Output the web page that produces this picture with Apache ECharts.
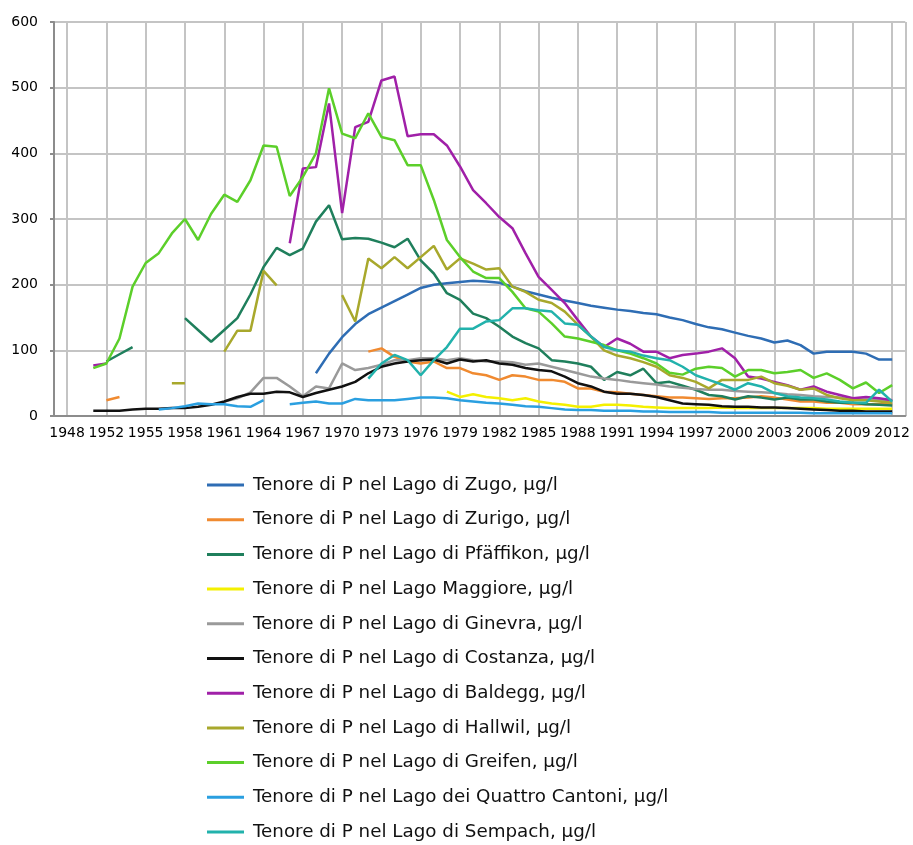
<!DOCTYPE html>
<html>
<head>
<meta charset="utf-8">
<script src="https://cdn.jsdelivr.net/npm/echarts@6/dist/echarts.min.js"></script>
<style>
html,body{margin:0;padding:0;background:#fff;}
#chart{width:913px;height:845px;}
</style>
</head>
<body>
<div id="chart"></div>
<script>
const years = [1948,1950,1951,1952,1953,1954,1955,1956,
  1957,1958,1959,1960,1961,1962,1963,1964,
  1965,1966,1967,1968,1969,1970,1971,1972,
  1973,1974,1975,1976,1977,1978,1979,1980,
  1981,1982,1983,1984,1985,1986,1987,1988,
  1989,1990,1991,1992,1993,1994,1995,1996,
  1997,1998,1999,2000,2001,2002,2003,2004,
  2005,2006,2007,2008,2009,2010,2011,2012];

const yTicks = [0,100,200,300,400,500,600];

const seriesNames = [
  'Tenore di P nel Lago di Zugo, µg/l',
  'Tenore di P nel Lago di Zurigo, µg/l',
  'Tenore di P nel Lago di Pfäffikon, µg/l',
  'Tenore di P nel Lago Maggiore, µg/l',
  'Tenore di P nel Lago di Ginevra, µg/l',
  'Tenore di P nel Lago di Costanza, µg/l',
  'Tenore di P nel Lago di Baldegg, µg/l',
  'Tenore di P nel Lago di Hallwil, µg/l',
  'Tenore di P nel Lago di Greifen, µg/l',
  'Tenore di P nel Lago dei Quattro Cantoni, µg/l',
  'Tenore di P nel Lago di Sempach, µg/l'
];

const zugo = [null,null,null,null,null,null,null,null,
  null,null,null,null,null,null,null,null,
  null,null,null,65,95,120,140,155,
  165,175,185,195,200,202,204,206,
  205,203,197,190,185,180,176,172,
  168,165,162,160,157,155,150,146,
  140,135,132,127,122,118,112,115,
  108,95,98,98,98,95,86,86];

const zurigo = [null,null,null,24,29,null,null,null,
  null,null,null,null,null,null,null,null,
  null,null,null,null,null,null,null,98,
  103,90,83,80,83,73,73,65,
  62,55,62,60,55,55,52,42,
  42,37,36,34,32,30,28,28,
  27,26,27,27,28,30,28,25,
  22,22,20,20,18,18,18,18];

const pfaffikon = [null,null,null,83,94,105,null,null,
  null,149,131,113,131,149,185,227,
  256,245,255,296,321,269,271,270,
  264,257,270,237,217,187,177,156,
  149,136,121,111,103,85,83,80,
  75,55,67,62,72,50,52,46,
  40,32,30,25,30,28,25,28,
  25,25,22,20,20,18,17,16];

const maggiore = [null,null,null,null,null,null,null,null,
  null,null,null,null,null,null,null,null,
  null,null,null,null,null,null,null,null,
  null,null,null,null,null,37,29,33,
  29,27,24,27,22,19,17,14,
  14,17,17,16,14,13,12,12,
  12,12,13,12,12,12,12,12,
  12,12,11,11,11,11,11,11];

const ginevra = [null,null,null,null,null,null,null,null,
  null,null,null,null,22,27,36,58,
  58,45,30,45,42,80,70,73,
  78,85,85,88,88,85,88,85,
  83,83,82,78,80,75,70,65,
  60,57,55,52,50,48,45,43,
  41,40,40,38,37,36,35,33,
  32,30,29,28,26,25,24,23];

const costanza = [null,null,8,8,8,10,11,11,
  12,12,14,17,22,29,34,34,
  37,36,29,35,40,45,52,65,
  75,80,83,85,86,80,86,83,
  85,80,78,73,70,68,60,50,
  45,37,34,34,32,29,24,19,
  18,17,15,14,14,13,13,12,
  11,10,9,8,8,7,7,7];

const baldegg = [null,null,77,80,null,null,null,null,
  null,null,null,null,null,null,null,null,
  null,263,377,379,476,309,440,448,
  511,517,426,429,429,412,380,344,
  324,303,286,248,212,192,172,146,
  121,105,118,110,98,98,88,93,
  95,98,103,88,60,57,52,47,
  40,45,37,32,27,29,27,24];

const hallwil = [null,null,null,null,null,null,null,null,
  50,50,null,null,98,130,130,221,
  199,null,null,null,null,184,144,240,
  225,242,225,242,259,223,240,232,
  223,225,197,189,177,172,159,139,
  121,100,92,88,82,75,62,58,
  52,42,55,55,55,60,50,46,
  40,42,32,27,24,24,22,20];

const greifen = [null,null,73,80,118,197,233,248,
  278,300,268,308,337,326,359,412,
  410,335,364,400,499,430,423,461,
  425,420,382,382,329,268,242,220,
  210,210,189,164,159,141,121,118,
  113,108,100,95,88,80,66,63,
  72,75,73,60,70,70,65,67,
  70,58,65,55,42,51,35,47];

const quattroCantoni = [null,null,null,null,null,null,null,10,
  12,15,19,18,18,15,14,24,
  null,18,20,22,19,19,26,24,
  24,24,26,28,28,27,24,22,
  20,19,17,15,14,12,10,9,
  9,8,8,8,7,7,6,6,
  6,6,5,5,5,5,5,5,
  5,4,4,4,4,4,4,4];

const sempach = [null,null,null,null,null,null,null,null,
  null,null,null,null,null,null,null,null,
  null,null,null,null,null,null,null,57,
  80,93,85,62,85,105,133,133,
  144,146,164,164,161,159,141,139,
  121,105,100,98,92,88,85,75,
  62,55,48,40,50,45,35,30,
  28,27,25,22,20,20,40,22];

const seriesValues = [zugo, zurigo, pfaffikon, maggiore, ginevra, costanza,
  baldegg, hallwil, greifen, quattroCantoni, sempach];

const seriesColors = ['#2e6db4','#f08a30','#1f7f5c','#f4f000','#9a9a9a','#111111',
  '#a020a8','#a8a82c','#5ccf2a','#2a9fe0','#22b2ac'];

// category axis padded with one empty slot at each end
const cats = [''].concat(years.map(String), ['']);
const lastIdx = cats.length - 1;
const showTick = function (idx) {
  if (idx === 0 || idx === lastIdx) return false;
  return (idx - 1) % 3 === 0;
};
const showSplit = function (idx) {
  if (idx === 0 || idx === lastIdx) return true;
  return (idx - 1) % 3 === 0;
};

const font = 'DejaVu Sans';
const chart = echarts.init(document.getElementById('chart'), null, {renderer: 'canvas'});
chart.setOption({
  animation: false,
  backgroundColor: '#ffffff',
  grid: {left: 54, right: 4, top: 22, bottom: 429, containLabel: false},
  legend: {
    orient: 'vertical',
    left: 207,
    top: 475,
    height: 372,
    padding: 0,
    icon: 'rect',
    itemWidth: 37,
    itemHeight: 3,
    itemGap: 14.7,
    data: seriesNames,
    textStyle: {fontFamily: font, fontSize: 18.3, color: '#111', lineHeight: 20, padding: [0,0,0,4]}
  },
  xAxis: {
    type: 'category',
    boundaryGap: false,
    data: cats,
    axisLine: {show: true, lineStyle: {color: '#8c8c8c', width: 2}},
    axisTick: {show: false},
    axisLabel: {interval: showTick, fontFamily: font, fontSize: 14, color: '#000', margin: 10},
    splitLine: {show: true, interval: showSplit, lineStyle: {color: '#c4c4c4', width: 2}}
  },
  yAxis: {
    type: 'value',
    min: yTicks[0],
    max: yTicks[yTicks.length - 1],
    interval: yTicks[1] - yTicks[0],
    axisLine: {show: true, lineStyle: {color: '#8c8c8c', width: 2}},
    axisTick: {show: true, length: 4, lineStyle: {color: '#8c8c8c', width: 2}},
    axisLabel: {fontFamily: font, fontSize: 14, color: '#000', margin: 16},
    splitLine: {show: true, lineStyle: {color: '#c4c4c4', width: 2}}
  },
  series: seriesNames.map(function (name, i) {
    return {
      name: name,
      type: 'line',
      data: [null].concat(seriesValues[i], [null]),
      showSymbol: false,
      symbol: 'none',
      connectNulls: false,
      color: seriesColors[i],
      lineStyle: {width: 2.5, color: seriesColors[i]}
    };
  })
});
</script>
</body>
</html>
